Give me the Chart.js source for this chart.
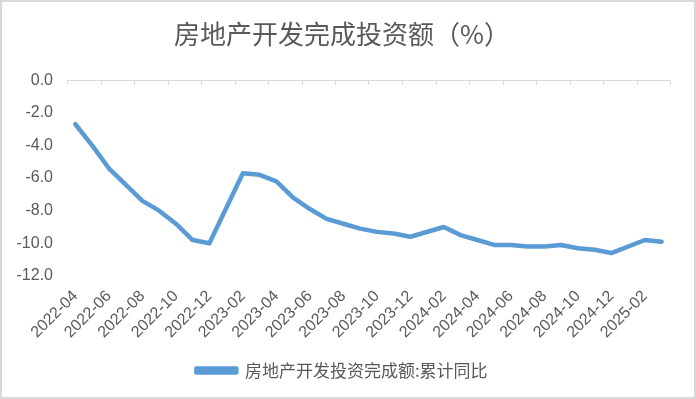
<!DOCTYPE html>
<html>
<head>
<meta charset="utf-8">
<script src="https://cdn.jsdelivr.net/npm/chart.js@4.4.0/dist/chart.umd.min.js"></script>
<style>
  body { margin: 0; background: #fff; }
  canvas { display: block; }
</style>
</head>
<body>
<canvas id="chart" width="696" height="399"></canvas>
<script>
// months 2022-04 .. 2025-03, January has no cumulative figure (null)
const months = [
  '2022-04', '2022-05', '2022-06', '2022-07', '2022-08', '2022-09', '2022-10', '2022-11', '2022-12',
  '2023-01', '2023-02', '2023-03', '2023-04', '2023-05', '2023-06', '2023-07', '2023-08', '2023-09',
  '2023-10', '2023-11', '2023-12', '2024-01', '2024-02', '2024-03', '2024-04', '2024-05', '2024-06',
  '2024-07', '2024-08', '2024-09', '2024-10', '2024-11', '2024-12', '2025-01', '2025-02', '2025-03'
];
const investYoY = [
  -2.7, -4.0, -5.4, -6.4, -7.4, -8.0, -8.8, -9.8, -10.0,
  null, -5.7, -5.8, -6.2, -7.2, -7.9, -8.5, -8.8, -9.1,
  -9.3, -9.4, -9.6, null, -9.0, -9.5, -9.8, -10.1, -10.1,
  -10.2, -10.2, -10.1, -10.3, -10.4, -10.6, null, -9.8, -9.9
];
const yMin = -12;
const yMax = 0;
const yStep = 2;

const seriesName = '房地产开发投资完成额:累计同比';
const chartTitle = '房地产开发完成投资额（%）';

const grey = '#595959';

// chart frame + zero axis line with tick marks every two months
const framePlugin = {
  id: 'framePlugin',
  beforeDraw(chart) {
    const ctx = chart.ctx;
    ctx.save();
    ctx.fillStyle = '#fff';
    ctx.fillRect(0, 0, chart.width, chart.height);
    ctx.strokeStyle = '#d9d9d9';
    ctx.lineWidth = 2;
    ctx.strokeRect(1, 1, chart.width - 2, chart.height - 2);
    ctx.restore();
  },
  beforeDatasetsDraw(chart) {
    const ctx = chart.ctx;
    const x = chart.scales.x;
    const y = chart.scales.y;
    const y0 = Math.round(y.getPixelForValue(0)) + 0.5;
    const half = (x.getPixelForValue(1) - x.getPixelForValue(0)) / 2;
    ctx.save();
    ctx.strokeStyle = '#d9d9d9';
    ctx.lineWidth = 1;
    ctx.beginPath();
    ctx.moveTo(x.left, y0);
    ctx.lineTo(x.right, y0);
    for (let i = 0; i <= months.length; i += 2) {
      const px = Math.round(x.getPixelForValue(i) - half) + 0.5;
      ctx.moveTo(px, y0);
      ctx.lineTo(px, y0 + 4);
    }
    ctx.stroke();
    ctx.restore();
  }
};

const ctx = document.getElementById('chart').getContext('2d');
new Chart(ctx, {
  type: 'line',
  data: {
    labels: months,
    datasets: [{
      label: seriesName,
      data: investYoY,
      borderColor: '#5b9bd5',
      backgroundColor: '#5b9bd5',
      borderWidth: 4.5,
      borderCapStyle: 'round',
      borderJoinStyle: 'round',
      pointRadius: 0,
      tension: 0,
      spanGaps: true
    }]
  },
  options: {
    responsive: false,
    animation: false,
    layout: {
      padding: { left: 14, right: 26, top: 0, bottom: 10 }
    },
    plugins: {
      title: {
        display: true,
        text: chartTitle,
        color: grey,
        font: { family: '"Noto Sans CJK SC", sans-serif', size: 26, weight: 'normal' },
        padding: { top: 19, bottom: 30 }
      },
      legend: {
        position: 'bottom',
        labels: {
          color: grey,
          boxWidth: 40,
          boxHeight: 4,
          font: { family: '"Noto Sans CJK SC", sans-serif', size: 17 },
          padding: 9
        }
      },
      tooltip: { enabled: false }
    },
    scales: {
      x: {
        offset: true,
        grid: { display: false, drawTicks: false },
        border: { display: false },
        ticks: {
          autoSkip: false,
          maxRotation: 45,
          minRotation: 45,
          padding: 11,
          color: grey,
          font: { family: '"Liberation Sans", sans-serif', size: 16 },
          callback: function(value, index) {
            return index % 2 === 0 ? months[index] : '';
          }
        }
      },
      y: {
        min: yMin,
        max: yMax,
        grid: { display: false, drawTicks: false },
        border: { display: false },
        afterFit: function(scale) { scale.width = 53; },
        ticks: {
          stepSize: yStep,
          padding: 14,
          color: grey,
          font: { family: '"Liberation Sans", sans-serif', size: 16 },
          callback: function(value) { return value.toFixed(1); }
        }
      }
    }
  },
  plugins: [framePlugin]
});
</script>
</body>
</html>
